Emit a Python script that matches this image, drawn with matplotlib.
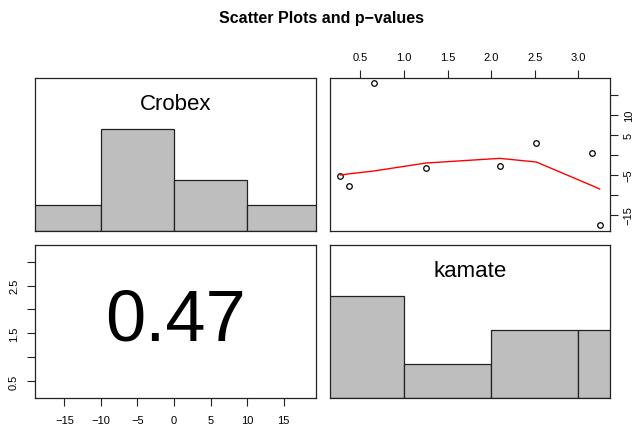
import numpy as np
import matplotlib
matplotlib.use("Agg")
import matplotlib.pyplot as plt

plt.rcParams['font.family'] = ['Liberation Sans', 'DejaVu Sans']

# ---- data ----
crobex = [-5.17, -7.67, 18.0, -3.25, -2.75, 3.08, 0.4, -17.6]
kamate = [0.271, 0.374, 0.653, 1.252, 2.099, 2.519, 3.156, 3.244]
# smoothed (lowess) curve, at sorted kamate values
smooth_x = [0.271, 0.374, 0.653, 1.252, 2.099, 2.519, 3.156, 3.244]
smooth_y = [-5.0, -4.7, -4.0, -2.0, -0.83, -1.75, -7.65, -8.5]
crobex_breaks = [-20, -10, 0, 10, 20]
crobex_counts = [1, 4, 2, 1]
kamate_breaks = [0, 1, 2, 3, 4]
kamate_counts = [3, 1, 2, 2]
corr_text = "0.47"
title = "Scatter Plots and p\u2212values"
var_names = ["Crobex", "kamate"]

crobex_ticks = [-15, -10, -5, 0, 5, 10, 15]
crobex_left_labels = {10: "10", 5: "5", -5: "\u22125", -15: "\u221215"}
kamate_ticks = [0.5, 1.0, 1.5, 2.0, 2.5, 3.0]
kamate_left_labels = {0.5: "0.5", 1.5: "1.5", 2.5: "2.5"}

def lim(v):
    lo, hi = min(v), max(v)
    p = (hi - lo) * 0.04
    return lo - p, hi + p

W, H = 634, 427
fig = plt.figure(figsize=(W / 100, H / 100), dpi=100)

def ax_at(x0, y0, x1, y1):
    return fig.add_axes([x0 / W, 1 - y1 / H, (x1 - x0) / W, (y1 - y0) / H])

ax_tl = ax_at(35, 78.5, 316, 232)
ax_tr = ax_at(330, 78.5, 610, 232)
ax_bl = ax_at(35, 245.5, 316, 398.5)
ax_br = ax_at(330, 245.5, 610, 398.5)

edge = '#222222'
for ax in (ax_tl, ax_tr, ax_bl, ax_br):
    for s in ax.spines.values():
        s.set_linewidth(0.9)
        s.set_color(edge)
    ax.tick_params(labelsize=8, length=5.5, width=0.8, color=edge, pad=6)

def hist_panel(ax, breaks, counts, data, name):
    mx = max(counts)
    lefts = breaks[:-1]
    widths = np.diff(breaks)
    heights = [c / mx for c in counts]
    ax.bar(lefts, heights, width=widths, align='edge', color='#BEBEBE',
           edgecolor=edge, linewidth=0.9)
    ax.set_xlim(*lim(data))
    ax.set_ylim(0, 1.5)
    ax.set_xticks([])
    ax.set_yticks([])
    ax.text(0.5, 0.83, name, transform=ax.transAxes, ha='center', va='center',
            fontsize=16)

hist_panel(ax_tl, crobex_breaks, crobex_counts, crobex, var_names[0])
hist_panel(ax_br, kamate_breaks, kamate_counts, kamate, var_names[1])

# top-right: scatter kamate (x) vs crobex (y)
ax_tr.plot(kamate, crobex, 'o', mfc='none', mec='black', ms=4, mew=0.9)
ax_tr.plot(smooth_x, smooth_y, color='red', lw=1)
ax_tr.set_xlim(*lim(kamate))
ax_tr.set_ylim(*lim(crobex))
ax_tr.xaxis.tick_top()
ax_tr.yaxis.tick_right()
ax_tr.set_xticks(kamate_ticks)
ax_tr.set_xticklabels([f"{t:.1f}" for t in kamate_ticks])
ax_tr.set_yticks(crobex_ticks)
ax_tr.set_yticklabels([crobex_left_labels.get(t, "") for t in crobex_ticks],
                      rotation=90, va='center')
ax_tr.tick_params(axis='x', pad=6)
ax_tr.tick_params(axis='y', pad=4.5)

# bottom-left: correlation text
ax_bl.set_xlim(*lim(crobex))
ax_bl.set_ylim(*lim(kamate))
ax_bl.set_xticks(crobex_ticks)
ax_bl.set_xticklabels([str(t).replace('-', '\u2212') for t in crobex_ticks])
ax_bl.set_yticks(kamate_ticks)
ax_bl.set_yticklabels([kamate_left_labels.get(t, "") for t in kamate_ticks],
                      rotation=90, va='center')
ax_bl.tick_params(axis='x', pad=7)
ax_bl.tick_params(axis='y', pad=6)
ax_bl.text(0.5, 0.5, corr_text, transform=ax_bl.transAxes, ha='center',
           va='center', fontsize=52)

fig.text(322 / W, 1 - 19 / H, title, ha='center', va='center',
         fontsize=11.5, fontweight='bold')

fig.savefig("out.png", dpi=100)
